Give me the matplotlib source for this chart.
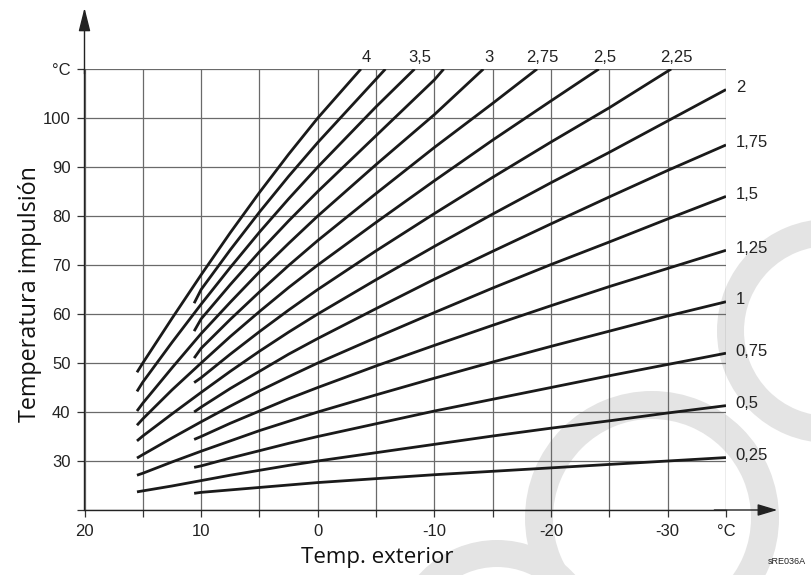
import matplotlib
matplotlib.use("Agg")
import matplotlib.pyplot as plt
from matplotlib.patches import Wedge

# outdoor temperature grid (deg C); curves start at 15.5 or 10.6
x_long = [15.5, 15, 12.5, 10, 7.5, 5, 2.5, 0, -5, -10, -15, -20, -25, -30, -35]
x_short = [10.6, 10, 7.5, 5, 2.5, 0, -5, -10, -15, -20, -25, -30, -35]

# flow temperature, one list per curve slope
flow_4 = [48.1, 50.0, 59.1, 68.0, 76.6, 84.8, 92.6, 100.0]
flow_3_75 = [62.2, 65.0, 73.1, 80.8, 88.1, 95.0]
flow_3_5 = [44.2, 46.1, 54.2, 62.0, 69.5, 76.7, 83.5, 90.0, 102.3]
flow_3_25 = [56.5, 59.0, 66.0, 72.7, 79.0, 85.0, 96.4, 107.8]
flow_3 = [40.2, 41.8, 49.0, 56.0, 62.4, 68.6, 74.4, 80.0, 90.5, 100.7]
flow_2_75 = [51.0, 53.0, 58.9, 64.5, 69.9, 75.0, 84.6, 94.0, 103.0]
flow_2_5 = [37.3, 38.6, 44.5, 50.0, 55.4, 60.5, 65.4, 70.0, 78.7, 87.2, 95.5, 103.5]
flow_2_25 = [46.0, 47.0, 51.8, 56.4, 60.8, 65.0, 72.9, 80.5, 87.9, 95.1, 102.1]
flow_2 = [34.1, 35.1, 39.6, 44.0, 48.3, 52.4, 56.3, 60.0, 67.0, 73.8, 80.4, 86.8, 93.0, 99.4, 105.8]
flow_1_75 = [40.0, 41.0, 44.8, 48.3, 51.8, 55.0, 61.1, 67.1, 72.8, 78.4, 83.9, 89.3, 94.5]
flow_1_5 = [30.6, 31.3, 34.7, 38.0, 41.2, 44.3, 47.2, 50.0, 55.2, 60.3, 65.3, 70.1, 74.7, 79.4, 84.0]
flow_1_25 = [34.4, 35.0, 37.7, 40.2, 42.7, 45.0, 49.4, 53.6, 57.7, 61.7, 65.6, 69.3, 73.0]
flow_1 = [27.1, 27.5, 29.8, 32.0, 34.1, 36.2, 38.1, 40.0, 43.5, 46.9, 50.2, 53.4, 56.5, 59.6, 62.5]
flow_0_75 = [28.7, 29.0, 30.6, 32.1, 33.6, 35.0, 37.6, 40.2, 42.6, 45.0, 47.4, 49.7, 52.0]
flow_0_5 = [23.7, 23.9, 24.9, 26.0, 27.1, 28.1, 29.1, 30.0, 31.7, 33.4, 35.1, 36.7, 38.2, 39.8, 41.3]
flow_0_25 = [23.4, 23.6, 24.1, 24.6, 25.1, 25.6, 26.4, 27.2, 27.9, 28.6, 29.3, 30.0, 30.7]

# curves that run into the top of the chart (110 deg C): outdoor temp where they stop
top_end_4 = -3.7
top_end_3_75 = -5.8
top_end_3_5 = -8.3
top_end_3_25 = -10.8
top_end_3 = -14.2
top_end_2_75 = -18.8
top_end_2_5 = -24.1
top_end_2_25 = -30.3
y_top = 110

top_labels = ["4", "", "3,5", "", "3", "2,75", "2,5", "2,25"]
right_labels = ["2", "1,75", "1,5", "1,25", "1", "0,75", "0,5", "0,25"]

x_ticks = [20, 15, 10, 5, 0, -5, -10, -15, -20, -25, -30, -35]
x_ticklabels = ["20", "", "10", "", "0", "", "-10", "", "-20", "", "-30", "°C"]
y_ticks = [20, 30, 40, 50, 60, 70, 80, 90, 100, 110]
y_ticklabels = ["", "30", "40", "50", "60", "70", "80", "90", "100", "°C"]

top_curves = [
    (x_long, flow_4, top_end_4),
    (x_short, flow_3_75, top_end_3_75),
    (x_long, flow_3_5, top_end_3_5),
    (x_short, flow_3_25, top_end_3_25),
    (x_long, flow_3, top_end_3),
    (x_short, flow_2_75, top_end_2_75),
    (x_long, flow_2_5, top_end_2_5),
    (x_short, flow_2_25, top_end_2_25),
]
right_curves = [
    (x_long, flow_2),
    (x_short, flow_1_75),
    (x_long, flow_1_5),
    (x_short, flow_1_25),
    (x_long, flow_1),
    (x_short, flow_0_75),
    (x_long, flow_0_5),
    (x_short, flow_0_25),
]

W, H = 812, 575
fig = plt.figure(figsize=(W / 100, H / 100), dpi=100)
fig.patch.set_facecolor("white")

# watermark rings, drawn in pixel space behind everything
bg = fig.add_axes([0, 0, 1, 1], zorder=-5)
bg.set_xlim(0, W)
bg.set_ylim(H, 0)
bg.axis("off")
ring_col = "#e4e4e4"
bg.add_patch(Wedge((829, 331), 112, 0, 360, width=27, color=ring_col, lw=0))
bg.add_patch(Wedge((652, 518), 127, 0, 360, width=28, color=ring_col, lw=0))
bg.add_patch(Wedge((497, 645), 105, 0, 360, width=27, color=ring_col, lw=0))

ax = fig.add_axes([84.5 / W, 65 / H, (726 - 84.5) / W, (510 - 69) / H])
ax.patch.set_alpha(0)
ax.set_xlim(20, -35)
ax.set_ylim(20, 110)

for s in ["top", "right"]:
    ax.spines[s].set_visible(False)
for s in ["left", "bottom"]:
    ax.spines[s].set_linewidth(1.0)
    ax.spines[s].set_color("#222222")

ax.set_xticks(x_ticks)
ax.set_xticklabels(x_ticklabels)
ax.set_yticks(y_ticks)
ax.set_yticklabels(y_ticklabels)
ax.tick_params(direction="out", length=5, width=0.9, color="#333333",
               labelsize=12, pad=5, labelcolor="#222222")
for lab in ax.get_xticklabels() + ax.get_yticklabels():
    lab.set_family("Liberation Sans")
ax.grid(True, color="#6a6a6a", lw=0.9)
ax.set_axisbelow(True)

line_kw = dict(color="#1a1a1a", lw=2.0, solid_capstyle="butt", zorder=3)

for (xs, ys, x_end), lab in zip(top_curves, top_labels):
    px = list(xs[:len(ys)]) + [x_end]
    py = list(ys) + [y_top]
    ax.plot(px, py, **line_kw)
    if lab:
        ax.annotate(lab, (x_end, y_top), xytext=(4, 3), textcoords="offset points",
                    ha="center", va="bottom", fontsize=12, family="Liberation Sans",
                    color="#222222", annotation_clip=False)

for (xs, ys), lab in zip(right_curves, right_labels):
    ax.plot(xs[:len(ys)], ys, **line_kw)
    ax.annotate(lab, (xs[len(ys) - 1], ys[-1]), xytext=(7, 1.5), textcoords="offset points",
                ha="left", va="center", fontsize=12, family="Liberation Sans",
                color="#222222", annotation_clip=False)

# axis arrows
ax.annotate("", xy=(20, 122.5), xytext=(20, 109), annotation_clip=False,
            arrowprops=dict(arrowstyle="-|>,head_length=1.2,head_width=0.3",
                            color="#222222", lw=1.0, mutation_scale=12, shrinkA=0, shrinkB=0))
ax.annotate("", xy=(-39.4, 20), xytext=(-34, 20), annotation_clip=False,
            arrowprops=dict(arrowstyle="-|>,head_length=1.0,head_width=0.3",
                            color="#222222", lw=1.0, mutation_scale=12, shrinkA=0, shrinkB=0))

fig.text(377 / W, 1 - 557 / H, "Temp. exterior", ha="center", va="center",
         fontsize=16, family="Open Sans", color="#111111")
fig.text(30 / W, 1 - 294 / H, "Temperatura impulsión", ha="center", va="center",
         rotation=90, fontsize=16.8, family="Open Sans", color="#111111")
fig.text(787 / W, 1 - 562 / H, "sRE036A", ha="center", va="center",
         fontsize=6.5, family="Liberation Sans", color="#222222")

fig.savefig("out.png", dpi=100, facecolor="white")
